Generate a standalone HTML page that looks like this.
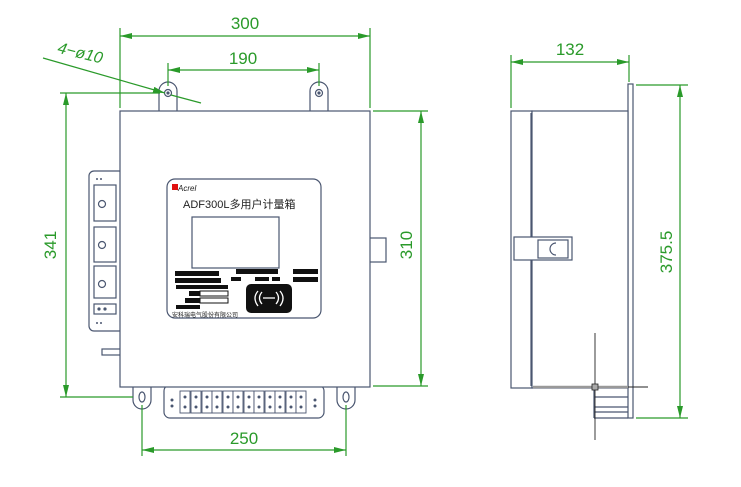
<!DOCTYPE html>
<html><head><meta charset="utf-8"><style>
html,body{margin:0;padding:0;background:#fff;}
svg{display:block;}
text{font-family:"Liberation Sans","Noto Sans CJK SC",sans-serif;}
</style></head><body>
<svg width="741" height="487" viewBox="0 0 741 487" xmlns="http://www.w3.org/2000/svg">
<defs>
<marker id="a" markerWidth="12" markerHeight="6" refX="12" refY="3" orient="auto-start-reverse" markerUnits="userSpaceOnUse"><path d="M0,0 L12,3 L0,6 Z" fill="#2a9a2a"/></marker>
</defs>
<g stroke="#4a5670" stroke-width="1.2" fill="#fff">
<!-- top ears -->
<path d="M159,111 V91 A9,9 0 0 1 177,91 V111"/>
<circle cx="168" cy="93" r="3.5"/><circle cx="168" cy="93" r="1" fill="#4a5670"/>
<path d="M310,111 V91 A9,9 0 0 1 328,91 V111"/>
<circle cx="319" cy="93" r="3.5"/><circle cx="319" cy="93" r="1" fill="#4a5670"/>
<!-- bottom ears -->
<path d="M133,387 V400 A9,9 0 0 0 151,400 V387"/>
<ellipse cx="142" cy="397" rx="3" ry="5"/>
<path d="M337,387 V400 A9,9 0 0 0 355,400 V387"/>
<ellipse cx="346" cy="397" rx="3" ry="5"/>
<!-- terminal block -->
<rect x="164" y="385" width="160" height="33" rx="6"/>
<!-- left module -->
<rect x="89" y="171" width="35" height="160" rx="5"/>
<rect x="94" y="185" width="22" height="36"/><circle cx="102" cy="204" r="3.5"/>
<rect x="94" y="227" width="22" height="35"/><circle cx="102" cy="245" r="3.5"/>
<rect x="94" y="266" width="22" height="32"/><circle cx="102" cy="284" r="3.5"/>
<rect x="94" y="304" width="22" height="10"/>
<rect x="102" y="349" width="20" height="6"/>
<!-- right latch -->
<rect x="368" y="238" width="18" height="24"/>
<!-- main box -->
<rect x="120" y="111" width="250" height="276"/>
<!-- panel -->
<rect x="167" y="179" width="154" height="139" rx="8"/>
<rect x="192" y="217" width="87" height="51"/>
</g>
<g fill="#4a5670" font-size="5">
<circle cx="97" cy="179" r="1"/><circle cx="101" cy="179" r="1"/>
<circle cx="99" cy="309" r="1.6"/><circle cx="105" cy="309" r="1.6"/>
<circle cx="97" cy="323" r="1"/><circle cx="101" cy="323" r="1"/>
</g>
<!-- terminals -->
<g stroke="#4a5670" stroke-width="0.9" fill="#fff">
<rect x="180" y="391" width="10" height="22"/><rect x="191" y="391" width="10" height="22"/><rect x="202" y="391" width="10" height="22"/><rect x="212" y="391" width="10" height="22"/><rect x="223" y="391" width="10" height="22"/><rect x="233" y="391" width="10" height="22"/><rect x="244" y="391" width="10" height="22"/><rect x="254" y="391" width="10" height="22"/><rect x="265" y="391" width="10" height="22"/><rect x="275" y="391" width="10" height="22"/><rect x="286" y="391" width="10" height="22"/><rect x="296" y="391" width="10" height="22"/>
</g>
<g fill="#4a5670">
<circle cx="185" cy="397" r="1.5"/><circle cx="185" cy="407" r="1.5"/><circle cx="196" cy="397" r="1.5"/><circle cx="196" cy="407" r="1.5"/><circle cx="207" cy="397" r="1.5"/><circle cx="207" cy="407" r="1.5"/><circle cx="217" cy="397" r="1.5"/><circle cx="217" cy="407" r="1.5"/><circle cx="228" cy="397" r="1.5"/><circle cx="228" cy="407" r="1.5"/><circle cx="238" cy="397" r="1.5"/><circle cx="238" cy="407" r="1.5"/><circle cx="249" cy="397" r="1.5"/><circle cx="249" cy="407" r="1.5"/><circle cx="259" cy="397" r="1.5"/><circle cx="259" cy="407" r="1.5"/><circle cx="270" cy="397" r="1.5"/><circle cx="270" cy="407" r="1.5"/><circle cx="280" cy="397" r="1.5"/><circle cx="280" cy="407" r="1.5"/><circle cx="291" cy="397" r="1.5"/><circle cx="291" cy="407" r="1.5"/><circle cx="301" cy="397" r="1.5"/><circle cx="301" cy="407" r="1.5"/>
<circle cx="172" cy="400" r="1.5"/><circle cx="172" cy="406" r="1.5"/><circle cx="315" cy="400" r="1.5"/><circle cx="315" cy="406" r="1.5"/>
</g>
<!-- panel content -->
<rect x="172" y="184" width="6" height="6" fill="#e01010"/>
<text x="178" y="191" font-size="8" font-style="italic" fill="#222">Acrel</text>
<text x="183" y="208" font-size="11" fill="#222">ADF300L多用户计量箱</text>
<g fill="#111">
<rect x="175" y="271" width="44" height="5"/><rect x="175" y="278" width="46" height="5"/><rect x="176" y="285" width="52" height="4"/>
<rect x="189" y="291" width="11" height="5"/><rect x="185" y="298" width="15" height="5"/><rect x="176" y="305" width="24" height="4"/>
<rect x="236" y="269" width="42" height="5"/><rect x="231" y="277" width="10" height="4"/><rect x="255" y="277" width="14" height="4"/><rect x="272" y="277" width="8" height="4"/>
<rect x="293" y="269" width="25" height="5"/><rect x="293" y="277" width="25" height="5"/>
<rect x="246" y="284" width="46" height="29" rx="5"/>
</g>
<g stroke="#111" stroke-width="1" fill="none">
<rect x="200" y="291" width="28" height="5"/><rect x="200" y="298" width="28" height="5"/>
</g>
<g stroke="#fff" stroke-width="1.3" fill="none">
<path d="M258,291 Q252,298 258,306"/><path d="M262,292 Q257,298 262,304"/><path d="M280,291 Q286,298 280,306"/><path d="M276,292 Q281,298 276,304"/><path d="M263,298 H275"/>
</g>
<text x="172" y="317" font-size="6" fill="#222">安科瑞电气股份有限公司</text>

<!-- side view -->
<g stroke="#4a5670" stroke-width="1.2" fill="#fff">
<rect x="628" y="84" width="5" height="334"/>
<rect x="511" y="111" width="21" height="277"/>
<rect x="532" y="111" width="96" height="277"/>
<line x1="531" y1="113" x2="531" y2="386"/>
<rect x="514" y="237" width="58" height="23"/>
<rect x="538" y="240" width="30" height="18"/>
<path d="M556,243 A6,6 0 0 0 556,255"/>
<line x1="594" y1="388" x2="594" y2="418"/><line x1="594" y1="397" x2="628" y2="397"/><line x1="594" y1="407" x2="628" y2="407"/><line x1="594" y1="412" x2="628" y2="412"/><line x1="594" y1="418" x2="628" y2="418"/>
</g>
<line x1="533" y1="387" x2="628" y2="387" stroke="#999" stroke-width="2.5"/>
<g stroke="#222" stroke-width="0.9">
<line x1="595" y1="333" x2="595" y2="440"/><line x1="628" y1="387" x2="648" y2="387"/>
</g>
<rect x="592" y="384" width="6" height="6" fill="#aaa" stroke="#222" stroke-width="0.8"/>

<!-- dimensions -->
<g stroke="#2a9a2a" stroke-width="1.2" fill="none">
<line x1="120" y1="28" x2="120" y2="108"/><line x1="370" y1="28" x2="370" y2="108"/>
<line x1="120" y1="36" x2="370" y2="36" marker-start="url(#a)" marker-end="url(#a)"/>
<line x1="168" y1="63" x2="168" y2="86"/><line x1="319" y1="63" x2="319" y2="86"/>
<line x1="168" y1="70" x2="319" y2="70" marker-start="url(#a)" marker-end="url(#a)"/>
<line x1="43" y1="58" x2="165" y2="93" marker-end="url(#a)"/>
<line x1="171" y1="95" x2="201" y2="103"/>
<line x1="60" y1="93" x2="160" y2="93"/><line x1="60" y1="397" x2="133" y2="397"/>
<line x1="66" y1="93" x2="66" y2="397" marker-start="url(#a)" marker-end="url(#a)"/>
<line x1="373" y1="111" x2="428" y2="111"/><line x1="373" y1="386" x2="428" y2="386"/>
<line x1="421" y1="111" x2="421" y2="386" marker-start="url(#a)" marker-end="url(#a)"/>
<line x1="142" y1="405" x2="142" y2="456"/><line x1="346" y1="405" x2="346" y2="456"/>
<line x1="142" y1="450" x2="346" y2="450" marker-start="url(#a)" marker-end="url(#a)"/>
<line x1="511" y1="55" x2="511" y2="108"/><line x1="629" y1="55" x2="629" y2="82"/>
<line x1="511" y1="62" x2="629" y2="62" marker-start="url(#a)" marker-end="url(#a)"/>
<line x1="636" y1="85" x2="688" y2="85"/><line x1="636" y1="418" x2="688" y2="418"/>
<line x1="680" y1="85" x2="680" y2="418" marker-start="url(#a)" marker-end="url(#a)"/>
</g>
<g fill="#2a9a2a" font-size="17" text-anchor="middle">
<text x="245" y="29">300</text>
<text x="243" y="64">190</text>
<text x="244" y="444">250</text>
<text x="570" y="55">132</text>
<text transform="translate(56,245) rotate(-90)">341</text>
<text transform="translate(412,245) rotate(-90)">310</text>
<text transform="translate(672,252) rotate(-90)">375.5</text>
<text transform="translate(79,58) rotate(14)" font-size="16" font-style="italic">4−ø10</text>
</g>
</svg>
</body></html>
